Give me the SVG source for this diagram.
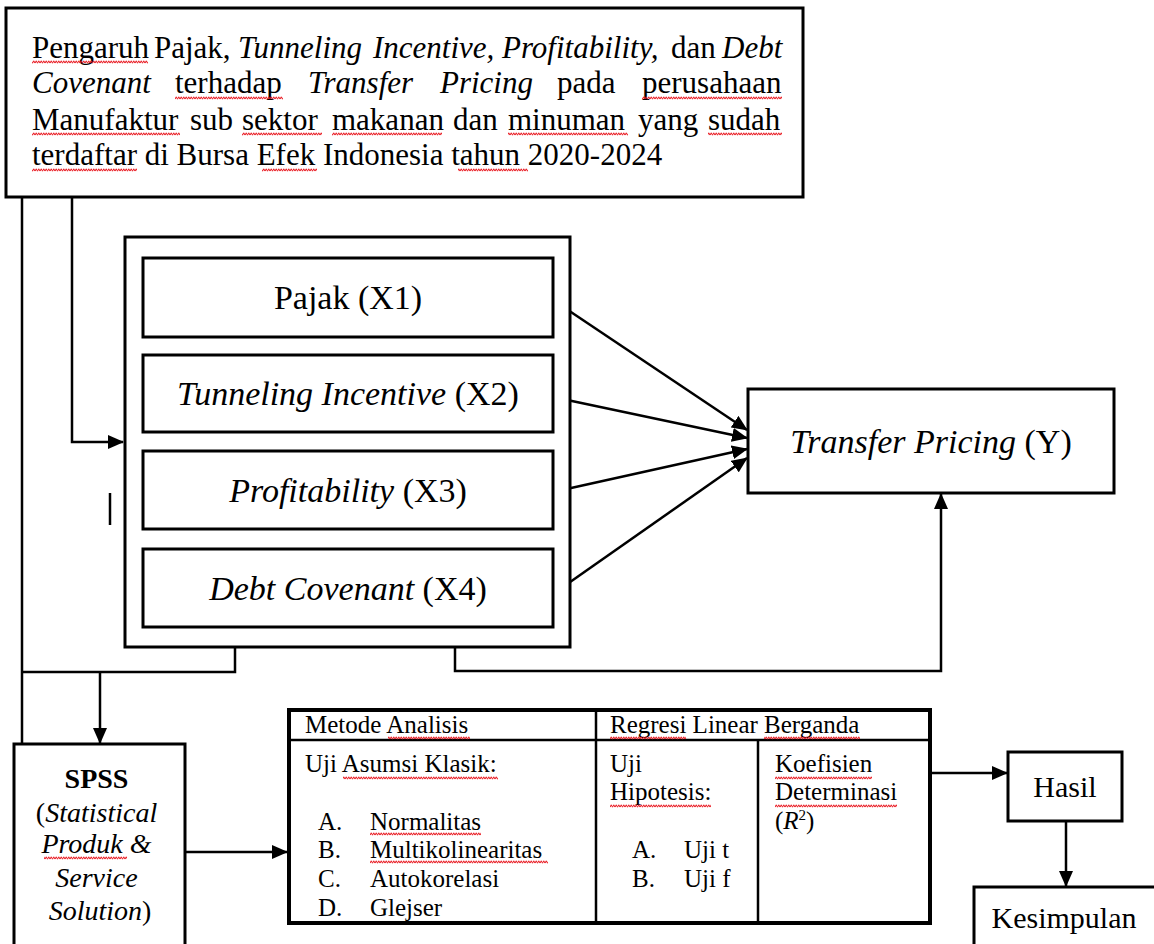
<svg xmlns="http://www.w3.org/2000/svg" width="1154" height="944" viewBox="0 0 1154 944">
<style>
.box{fill:#fff;stroke:#000;stroke-width:3}
.ln{fill:none;stroke:#000;stroke-width:2.5}
.t{font-family:"Liberation Serif","Times New Roman",serif;fill:#000}
.i{font-style:italic}
.sq{fill:url(#wave)}
</style>
<defs>
<marker id="ah" markerUnits="userSpaceOnUse" markerWidth="16" markerHeight="14" refX="15" refY="7" orient="auto">
<path d="M0,0 L16,7 L0,14 Z" fill="#000"/>
</marker>
<pattern id="wave" patternUnits="userSpaceOnUse" x="0" y="0" width="5" height="4">
<path d="M0,3.2 L1.25,0.8 L2.5,3.2 L3.75,0.8 L5,3.2" fill="none" stroke="#e8141c" stroke-width="1"/>
</pattern>
</defs>
<rect width="1154" height="944" fill="#fff"/>

<g id="connectors">
<path class="ln" d="M22,198 V744"/>
<path class="ln" d="M72,198 V442 H123" marker-end="url(#ah)"/>
<path class="ln" d="M235,648 V672 H22"/>
<path class="ln" d="M100,672 V743" marker-end="url(#ah)"/>
<path class="ln" d="M455,648 V671 H941 V494" marker-end="url(#ah)"/>
<path class="ln" d="M553,300 L747,430" marker-end="url(#ah)"/>
<path class="ln" d="M553,397 L747,438" marker-end="url(#ah)"/>
<path class="ln" d="M553,492 L747,449" marker-end="url(#ah)"/>
<path class="ln" d="M553,594 L747,458" marker-end="url(#ah)"/>
<path class="ln" d="M186,852 H287" marker-end="url(#ah)"/>
<path class="ln" d="M931,773 H1007" marker-end="url(#ah)"/>
<path class="ln" d="M1066,822 V886" marker-end="url(#ah)"/>
<path class="ln" d="M110,493 V525"/>
</g>

<g id="title">
<rect class="box" x="6" y="8" width="797" height="189"/>
<text class="t" font-size="31">
<tspan x="32" y="58">Pengaruh</tspan><tspan x="154" y="58">Pajak,</tspan><tspan class="i" x="238" y="58">Tunneling</tspan><tspan class="i" x="373" y="58">Incentive,</tspan><tspan class="i" x="502" y="58">Profitability,</tspan><tspan x="671" y="58">dan</tspan><tspan class="i" x="722" y="58">Debt</tspan>
<tspan class="i" x="32" y="93">Covenant</tspan><tspan x="175" y="93">terhadap</tspan><tspan class="i" x="308" y="93">Transfer</tspan><tspan class="i" x="440" y="93">Pricing</tspan><tspan x="557" y="93">pada</tspan><tspan x="642" y="93">perusahaan</tspan>
<tspan x="32" y="130">Manufaktur</tspan><tspan x="190" y="130">sub</tspan><tspan x="242" y="130">sektor</tspan><tspan x="332" y="130">makanan</tspan><tspan x="453" y="130">dan</tspan><tspan x="508" y="130">minuman</tspan><tspan x="638" y="130">yang</tspan><tspan x="708" y="130">sudah</tspan>
<tspan x="32" y="165">terdaftar di Bursa Efek Indonesia tahun 2020-2024</tspan>
</text>
<rect class="sq" x="32" y="60" width="116" height="4"/>
<rect class="sq" x="175" y="96" width="108" height="4"/>
<rect class="sq" x="642" y="96" width="140" height="4"/>
<rect class="sq" x="32" y="132" width="148" height="4"/>
<rect class="sq" x="242" y="132" width="80" height="4"/>
<rect class="sq" x="332" y="132" width="110" height="4"/>
<rect class="sq" x="508" y="132" width="120" height="4"/>
<rect class="sq" x="708" y="132" width="74" height="4"/>
<rect class="sq" x="32" y="168" width="105" height="4"/>
<rect class="sq" x="262" y="168" width="55" height="4"/>
<rect class="sq" x="458" y="168" width="70" height="4"/>
</g>

<g id="variables">
<rect class="box" x="125" y="237" width="445" height="410"/>
</g>
<g id="x1">
<rect class="box" x="143" y="258" width="410" height="79"/>
<text class="t" font-size="34" x="348" y="309" text-anchor="middle">Pajak (X1)</text>
</g>
<g id="x2">
<rect class="box" x="143" y="355" width="410" height="77"/>
<text class="t" font-size="34" x="348" y="405" text-anchor="middle"><tspan class="i">Tunneling Incentive</tspan> (X2)</text>
</g>
<g id="x3">
<rect class="box" x="143" y="451" width="410" height="78"/>
<text class="t" font-size="34" x="348" y="502" text-anchor="middle"><tspan class="i">Profitability</tspan> (X3)</text>
</g>
<g id="x4">
<rect class="box" x="143" y="549" width="410" height="78"/>
<text class="t" font-size="34" x="348" y="600" text-anchor="middle"><tspan class="i">Debt Covenant</tspan> (X4)</text>
</g>

<g id="y">
<rect class="box" x="748" y="389" width="366" height="104"/>
<text class="t" font-size="34" x="931" y="453" text-anchor="middle"><tspan class="i">Transfer Pricing</tspan> (Y)</text>
</g>

<g id="spss">
<rect class="box" x="14" y="744" width="171" height="210"/>
<text class="t" font-size="28" text-anchor="middle">
<tspan x="100" y="788" font-weight="bold">SPSS</tspan>
<tspan x="100" y="822">(<tspan class="i">Statistical</tspan></tspan>
<tspan x="100" y="853"><tspan class="i">Produk &amp;</tspan></tspan>
<tspan x="100" y="887" class="i">Service</tspan>
<tspan x="100" y="920"><tspan class="i">Solution</tspan>)</tspan>
</text>
<rect class="sq" x="44" y="856" width="83" height="4"/>
</g>

<g id="metode">
<rect x="289" y="710" width="641" height="213" fill="#fff" stroke="#000" stroke-width="4"/>
<path class="ln" d="M289,740 H930 M596,710 V923 M758,740 V923" stroke-width="3"/>
<text class="t" font-size="25">
<tspan x="305" y="733">Metode Analisis</tspan>
<tspan x="610" y="733">Regresi Linear Berganda</tspan>
<tspan x="305" y="772">Uji Asumsi Klasik:</tspan>
<tspan x="318" y="830">A.</tspan><tspan x="370" y="830">Normalitas</tspan>
<tspan x="318" y="858">B.</tspan><tspan x="370" y="858">Multikolinearitas</tspan>
<tspan x="318" y="887">C.</tspan><tspan x="370" y="887">Autokorelasi</tspan>
<tspan x="318" y="916">D.</tspan><tspan x="370" y="916">Glejser</tspan>
<tspan x="610" y="772">Uji</tspan>
<tspan x="610" y="800">Hipotesis:</tspan>
<tspan x="632" y="858">A.</tspan><tspan x="684" y="858">Uji t</tspan>
<tspan x="632" y="887">B.</tspan><tspan x="684" y="887">Uji f</tspan>
<tspan x="775" y="772">Koefisien</tspan>
<tspan x="775" y="800">Determinasi</tspan>
<tspan x="775" y="829">(<tspan class="i">R</tspan><tspan font-size="15" dy="-9">2</tspan><tspan dy="9">)</tspan></tspan>
</text>
<rect class="sq" x="388" y="736" width="82" height="4"/>
<rect class="sq" x="610" y="736" width="76" height="4"/>
<rect class="sq" x="764" y="736" width="96" height="4"/>
<rect class="sq" x="343" y="776" width="155" height="4"/>
<rect class="sq" x="775" y="776" width="97" height="4"/>
<rect class="sq" x="610" y="804" width="101" height="4"/>
<rect class="sq" x="775" y="804" width="122" height="4"/>
<rect class="sq" x="370" y="832" width="111" height="4"/>
<rect class="sq" x="370" y="860" width="178" height="4"/>
</g>

<g id="hasil">
<rect class="box" x="1008" y="752" width="114" height="69"/>
<text class="t" font-size="30" x="1065" y="797" text-anchor="middle">Hasil</text>
</g>

<g id="kesimpulan">
<rect class="box" x="974" y="887" width="190" height="70"/>
<text class="t" font-size="30" x="1064" y="928" text-anchor="middle">Kesimpulan</text>
</g>
</svg>
